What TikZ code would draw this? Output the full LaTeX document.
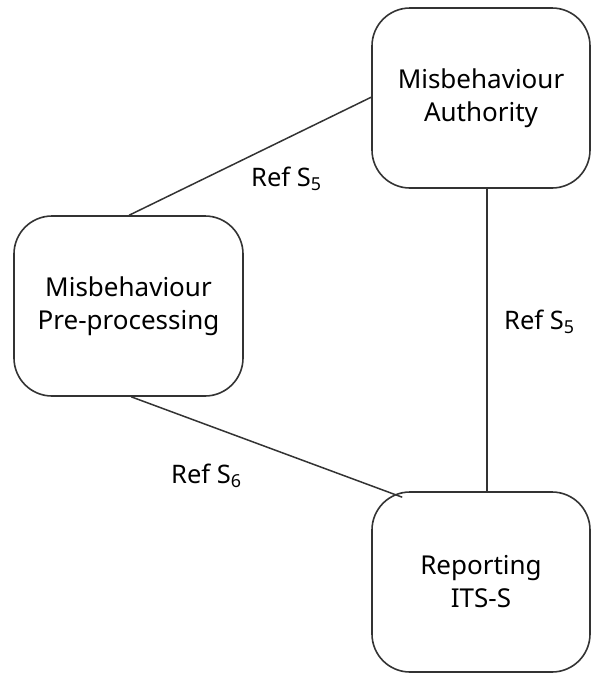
\documentclass[tikz,border=0pt]{standalone}
\usepackage{fontspec}
\setmainfont{Noto Sans}
\usetikzlibrary{calc}
\begin{document}
\begin{tikzpicture}[x=1pt,y=-1pt,
  entity/.style={draw=black!80, line width=1.6pt, rounded corners=38pt,
    minimum width=218pt, minimum height=180pt, align=center,
    font=\fontsize{26}{33}\selectfont, inner sep=0pt},
  link/.style={draw=black!80, line width=1.5pt},
  reflabel/.style={font=\fontsize{25.5}{29}\selectfont, inner sep=0pt, anchor=base west}]
  \useasboundingbox (0,0) rectangle (591,675);
  \node[entity] (auth) at (481,98) {Misbehaviour\\Authority};
  \node[entity, minimum width=229pt] (pre) at (128.5,306) {Misbehaviour\\Pre-processing};
  \node[entity] (rep) at (481,582) {Reporting\\ITS-S};
  % connectors between the three entities
  \draw[link] ($(pre.north west)+(116,0)$) -- ($(auth.north west)+(0,90)$);
  \draw[link] ($(auth.south west)+(116,0)$) -- ($(rep.north west)+(116,0)$);
  \draw[link] ($(pre.south west)+(118,0)$) -- ($(rep.north west)+(31,6)$);
  % reference point labels
  \node[reflabel] (l1) at (251,186) {Ref S\textsubscript{5}};
  \node[reflabel] (l2) at (504,329) {Ref S\textsubscript{5}};
  \node[reflabel] (l3) at (171,483) {Ref S\textsubscript{6}};
\end{tikzpicture}
\end{document}
